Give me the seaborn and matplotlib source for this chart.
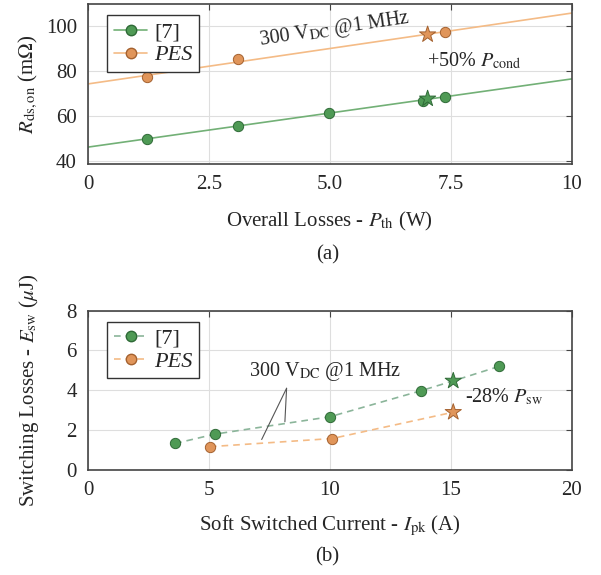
import matplotlib
matplotlib.use("Agg")
from matplotlib import pyplot as plt
from matplotlib.lines import Line2D
import numpy as np
import pandas as pd
import seaborn as sns

# (a) on-resistance vs overall losses
p_th_ref7 = [1.23, 3.1, 4.99, 6.93, 7.38]
rds_ref7 = [49.6, 55.7, 61.5, 66.7, 68.6]
p_th_pes = [1.23, 3.1, 7.38]
rds_pes = [77.2, 85.6, 97.4]
star_a_x = [7.02, 7.02]
star_a_y = [67.7, 96.4]

# (b) switching losses vs soft switched current
ipk_ref7 = [3.6, 5.25, 10.0, 13.75, 15.1, 17.0]
esw_ref7 = [1.33, 1.8, 2.67, 3.97, 4.47, 5.2]
ipk_pes = [5.04, 10.1, 15.1]
esw_pes = [1.17, 1.58, 2.9]

GREEN = "#4f9a55"
GREEN_EDGE = "#2f6a37"
GREEN_LINE = "#72b076"
ORANGE = "#e0955a"
ORANGE_EDGE = "#a4612f"
ORANGE_LINE = "#f4bb86"

sns.set_style("whitegrid")
plt.rcParams["font.family"] = ["Liberation Serif", "DejaVu Serif"]
plt.rcParams["mathtext.fontset"] = "stix"
plt.rcParams["font.size"] = 15

fig = plt.figure(figsize=(6.01, 5.75), dpi=100)
ax1 = fig.add_axes([0.1464, 0.7148, 0.805, 0.278])
ax2 = fig.add_axes([0.1464, 0.1826, 0.805, 0.2774])

df_a7 = pd.DataFrame({"x": p_th_ref7 + [star_a_x[0]], "y": rds_ref7 + [star_a_y[0]]})
df_ap = pd.DataFrame({"x": p_th_pes + [star_a_x[1]], "y": rds_pes + [star_a_y[1]]})

ax1.set_xlim(0, 10)
ax1.set_ylim(38.5, 110)
sns.regplot(data=df_a7, x="x", y="y", ax=ax1, scatter=False, ci=None, truncate=False,
            line_kws=dict(color=GREEN_LINE, lw=1.2))
sns.regplot(data=df_ap, x="x", y="y", ax=ax1, scatter=False, ci=None, truncate=False,
            line_kws=dict(color=ORANGE_LINE, lw=1.2))
sns.scatterplot(x=p_th_ref7, y=rds_ref7, ax=ax1, color=GREEN, edgecolor=GREEN_EDGE,
                s=55, linewidth=0.7, zorder=4)
sns.scatterplot(x=p_th_pes, y=rds_pes, ax=ax1, color=ORANGE, edgecolor=ORANGE_EDGE,
                s=55, linewidth=0.7, zorder=4)
sns.scatterplot(x=star_a_x, y=star_a_y, ax=ax1, marker="*", palette=[GREEN, ORANGE],
                hue=["g", "o"], edgecolor=[GREEN_EDGE, ORANGE_EDGE], s=150, linewidth=0.7,
                zorder=5, legend=False)

ax1.text(5.1, 98.6, r"300 V$_{\mathrm{DC}}$ @1 MHz", rotation=8.5, rotation_mode="anchor",
         ha="center", va="center", fontsize=14.5)
ax1.text(7.0, 84.5, r"+50% $P_{\mathrm{cond}}$", ha="left", va="center", fontsize=14.5)

ax1.set_xticks([0, 2.5, 5.0, 7.5, 10])
ax1.set_xticklabels(["0", "2.5", "5.0", "7.5", "10"])
ax1.set_yticks([40, 60, 80, 100])
ax1.set_xlabel(r"Overall Losses - $P_{\mathrm{th}}$ (W)", va="top")
ax1.set_ylabel(r"$R_{\mathrm{ds,on}}$ (m$\Omega$)")
ax1.xaxis.set_label_coords(0.5, -0.29)
ax1.yaxis.set_label_coords(-0.10, 0.5)

h1 = [Line2D([], [], color=GREEN_LINE, lw=1.2, marker="o", markersize=7.5,
             markerfacecolor=GREEN, markeredgecolor=GREEN_EDGE),
      Line2D([], [], color=ORANGE_LINE, lw=1.2, marker="o", markersize=7.5,
             markerfacecolor=ORANGE, markeredgecolor=ORANGE_EDGE)]

# (b)
ax2.set_xlim(0, 20)
ax2.set_ylim(0, 8)
sns.lineplot(x=ipk_ref7, y=esw_ref7, ax=ax2, color="#8bb59a", lw=1.2, linestyle=(0, (4, 3)))
sns.lineplot(x=ipk_pes, y=esw_pes, ax=ax2, color=ORANGE_LINE, lw=1.2, linestyle=(0, (4, 3)))
circ7 = [i for i in range(len(ipk_ref7)) if i != 4]
circp = [0, 1]
sns.scatterplot(x=[ipk_ref7[i] for i in circ7], y=[esw_ref7[i] for i in circ7], ax=ax2,
                color=GREEN, edgecolor=GREEN_EDGE, s=55, linewidth=0.7, zorder=4)
sns.scatterplot(x=[ipk_pes[i] for i in circp], y=[esw_pes[i] for i in circp], ax=ax2,
                color=ORANGE, edgecolor=ORANGE_EDGE, s=55, linewidth=0.7, zorder=4)
sns.scatterplot(x=[ipk_ref7[4], ipk_pes[2]], y=[esw_ref7[4], esw_pes[2]], ax=ax2, marker="*",
                hue=["g", "o"], palette=[GREEN, ORANGE], edgecolor=[GREEN_EDGE, ORANGE_EDGE],
                s=150, linewidth=0.7, zorder=5, legend=False)

ax2.text(9.8, 4.96, r"300 V$_{\mathrm{DC}}$ @1 MHz", ha="center", va="center", fontsize=14.5)
for tx, ty in [(7.18, 1.53), (8.14, 2.42)]:
    ax2.annotate("", xy=(tx, ty), xytext=(8.21, 4.1),
                 arrowprops=dict(arrowstyle="-", color="#555555", lw=0.8, shrinkA=0, shrinkB=0))
ax2.text(15.6, 3.67, r"-28% $P_{\mathrm{sw}}$", ha="left", va="center", fontsize=14.5)

ax2.set_xticks([0, 5, 10, 15, 20])
ax2.set_yticks([0, 2, 4, 6, 8])
ax2.set_xlabel(r"Soft Switched Current - $I_{\mathrm{pk}}$ (A)", va="top")
ax2.set_ylabel(r"Switching Losses - $E_{\mathrm{sw}}$ ($\mu$J)")
ax2.xaxis.set_label_coords(0.5, -0.275)
ax2.yaxis.set_label_coords(-0.097, 0.5)

h2 = [Line2D([], [], color="#8bb59a", lw=1.2, linestyle=(0, (4, 3)), marker="o", markersize=7.5,
             markerfacecolor=GREEN, markeredgecolor=GREEN_EDGE),
      Line2D([], [], color=ORANGE_LINE, lw=1.2, linestyle=(0, (4, 3)), marker="o", markersize=7.5,
             markerfacecolor=ORANGE, markeredgecolor=ORANGE_EDGE)]

for ax, hs in [(ax1, h1), (ax2, h2)]:
    ax.grid(True, color="#dedede", lw=0.8)
    for sp in ax.spines.values():
        sp.set_color("#444444")
        sp.set_linewidth(1.2)
    ax.tick_params(direction="in", length=4, color="#444444", top=True, right=True,
                   labelsize=15, pad=8)
    leg = ax.legend(hs, ["[7]", "PES"], loc="upper left", bbox_to_anchor=(0.04, 0.93),
                    fontsize=16, frameon=True, fancybox=False, edgecolor="#333333",
                    framealpha=1, handlelength=1.5, handletextpad=0.3, borderpad=0.3,
                    labelspacing=0.1, borderaxespad=0)
    leg.get_frame().set_linewidth(1.0)
    leg.get_texts()[1].set_style("italic")

fig.text(0.545, 1 - 255 / 575, "(a)", ha="center", va="center", fontsize=15)
fig.text(0.545, 1 - 557 / 575, "(b)", ha="center", va="center", fontsize=15)

plt.savefig("out.png", dpi=100)
plt.close()
